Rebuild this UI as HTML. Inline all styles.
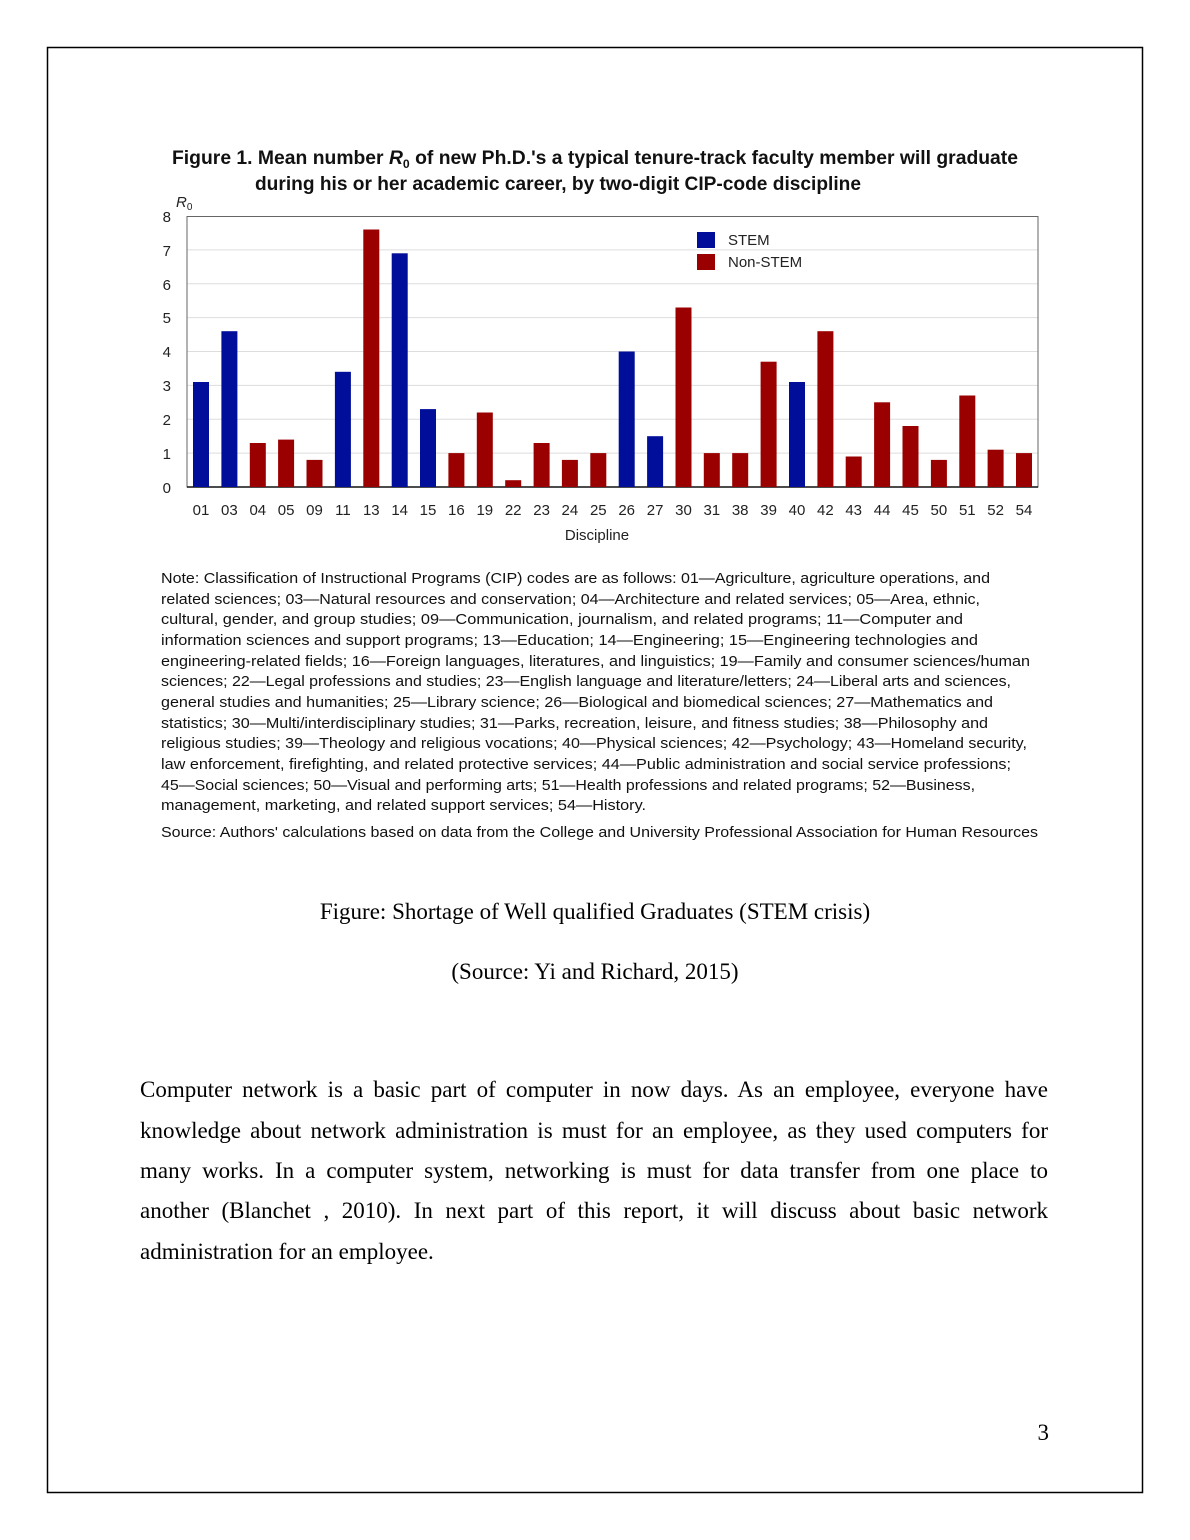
<!DOCTYPE html>
<html><head><meta charset="utf-8"><style>
html,body{margin:0;padding:0;background:#fff}
svg{display:block}
.s{font-family:"Liberation Sans","DejaVu Sans",sans-serif}
.t{font-family:"Liberation Serif",serif}
.pl{position:absolute;left:140px;width:908px;font-family:"Liberation Serif",serif;font-size:23px;line-height:26px;white-space:nowrap;text-align:justify;text-align-last:justify;color:#000}
.pl.last{text-align-last:left}
</style></head><body>
<div style="position:relative;width:1190px;height:1540px">
<svg width="1190" height="1540" viewBox="0 0 1190 1540" xmlns="http://www.w3.org/2000/svg" style="position:absolute;left:0;top:0">
<rect x="47.5" y="47.5" width="1095" height="1445" fill="none" stroke="#000" stroke-width="1.5"/>
<g class="s" font-weight="bold" font-size="19" fill="#111">
<text x="172" y="164" textLength="846" lengthAdjust="spacingAndGlyphs">Figure 1. Mean number <tspan font-style="italic">R</tspan><tspan font-size="12" dy="4">0</tspan><tspan dy="-4"> of new Ph.D.'s a typical tenure-track faculty member will graduate</tspan></text>
<text x="255" y="190" textLength="606" lengthAdjust="spacingAndGlyphs">during his or her academic career, by two-digit CIP-code discipline</text>
</g>
<text class="s" x="176" y="207" font-size="15" font-style="italic" fill="#222">R<tspan font-size="10" dy="3" font-style="normal">0</tspan></text>
<g stroke="#ddd" stroke-width="1">
<line x1="187" x2="1038" y1="453.1" y2="453.1"/><line x1="187" x2="1038" y1="419.3" y2="419.3"/>
<line x1="187" x2="1038" y1="385.4" y2="385.4"/><line x1="187" x2="1038" y1="351.5" y2="351.5"/>
<line x1="187" x2="1038" y1="317.6" y2="317.6"/><line x1="187" x2="1038" y1="283.8" y2="283.8"/>
<line x1="187" x2="1038" y1="249.9" y2="249.9"/>
</g>
<rect x="187" y="216.5" width="851" height="270.5" fill="none" stroke="#666" stroke-width="1"/>
<line x1="187" x2="1038" y1="487" y2="487" stroke="#111" stroke-width="1.5"/>
<g class="s" font-size="15" fill="#222" text-anchor="end">
<text x="171" y="493">0</text><text x="171" y="459">1</text><text x="171" y="425">2</text><text x="171" y="391">3</text><text x="171" y="357">4</text><text x="171" y="323">5</text><text x="171" y="290">6</text><text x="171" y="256">7</text><text x="171" y="222">8</text>
</g>
<g fill="#000e99">
<rect x="193" y="382" width="16" height="105"/>
<rect x="221.4" y="331.2" width="16" height="155.8"/>
<rect x="334.9" y="371.8" width="16" height="115.2"/>
<rect x="391.7" y="253.3" width="16" height="233.7"/>
<rect x="420" y="409.1" width="16" height="77.9"/>
<rect x="618.7" y="351.5" width="16" height="135.5"/>
<rect x="647.1" y="436.2" width="16" height="50.8"/>
<rect x="789" y="382" width="16" height="105"/>
<rect x="697" y="232" width="18" height="16"/>
</g>
<g fill="#9b0000">
<rect x="249.8" y="443" width="16" height="44"/>
<rect x="278.1" y="439.6" width="16" height="47.4"/>
<rect x="306.5" y="459.9" width="16" height="27.1"/>
<rect x="363.3" y="229.5" width="16" height="257.5"/>
<rect x="448.4" y="453.1" width="16" height="33.9"/>
<rect x="476.8" y="412.5" width="16" height="74.5"/>
<rect x="505.2" y="480.2" width="16" height="6.8"/>
<rect x="533.6" y="443" width="16" height="44"/>
<rect x="561.9" y="459.9" width="16" height="27.1"/>
<rect x="590.3" y="453.1" width="16" height="33.9"/>
<rect x="675.5" y="307.5" width="16" height="179.5"/>
<rect x="703.8" y="453.1" width="16" height="33.9"/>
<rect x="732.2" y="453.1" width="16" height="33.9"/>
<rect x="760.6" y="361.7" width="16" height="125.3"/>
<rect x="817.4" y="331.2" width="16" height="155.8"/>
<rect x="845.7" y="456.5" width="16" height="30.5"/>
<rect x="874.1" y="402.3" width="16" height="84.7"/>
<rect x="902.5" y="426" width="16" height="61"/>
<rect x="930.9" y="459.9" width="16" height="27.1"/>
<rect x="959.3" y="395.5" width="16" height="91.5"/>
<rect x="987.6" y="449.7" width="16" height="37.3"/>
<rect x="1016" y="453.1" width="16" height="33.9"/>
<rect x="697" y="254" width="18" height="16"/>
</g>
<g class="s" font-size="15" fill="#222">
<text x="728" y="245">STEM</text><text x="728" y="267">Non-STEM</text>
</g>
<g class="s" font-size="15" fill="#222" text-anchor="middle">
<text x="201" y="515">01</text><text x="229.4" y="515">03</text><text x="257.8" y="515">04</text><text x="286.1" y="515">05</text><text x="314.5" y="515">09</text><text x="342.9" y="515">11</text><text x="371.3" y="515">13</text><text x="399.7" y="515">14</text><text x="428" y="515">15</text><text x="456.4" y="515">16</text><text x="484.8" y="515">19</text><text x="513.2" y="515">22</text><text x="541.6" y="515">23</text><text x="569.9" y="515">24</text><text x="598.3" y="515">25</text><text x="626.7" y="515">26</text><text x="655.1" y="515">27</text><text x="683.5" y="515">30</text><text x="711.8" y="515">31</text><text x="740.2" y="515">38</text><text x="768.6" y="515">39</text><text x="797" y="515">40</text><text x="825.4" y="515">42</text><text x="853.7" y="515">43</text><text x="882.1" y="515">44</text><text x="910.5" y="515">45</text><text x="938.9" y="515">50</text><text x="967.3" y="515">51</text><text x="995.6" y="515">52</text><text x="1024" y="515">54</text>
<text x="597" y="540">Discipline</text>
</g>
<g class="s" font-size="15" fill="#111">
<text x="161" y="583" textLength="829" lengthAdjust="spacingAndGlyphs">Note: Classification of Instructional Programs (CIP) codes are as follows: 01—Agriculture, agriculture operations, and</text>
<text x="161" y="604" textLength="819" lengthAdjust="spacingAndGlyphs">related sciences; 03—Natural resources and conservation; 04—Architecture and related services; 05—Area, ethnic,</text>
<text x="161" y="624" textLength="802" lengthAdjust="spacingAndGlyphs">cultural, gender, and group studies; 09—Communication, journalism, and related programs; 11—Computer and</text>
<text x="161" y="645" textLength="817" lengthAdjust="spacingAndGlyphs">information sciences and support programs; 13—Education; 14—Engineering; 15—Engineering technologies and</text>
<text x="161" y="666" textLength="869" lengthAdjust="spacingAndGlyphs">engineering-related fields; 16—Foreign languages, literatures, and linguistics; 19—Family and consumer sciences/human</text>
<text x="161" y="686" textLength="850" lengthAdjust="spacingAndGlyphs">sciences; 22—Legal professions and studies; 23—English language and literature/letters; 24—Liberal arts and sciences,</text>
<text x="161" y="707" textLength="832" lengthAdjust="spacingAndGlyphs">general studies and humanities; 25—Library science; 26—Biological and biomedical sciences; 27—Mathematics and</text>
<text x="161" y="728" textLength="827" lengthAdjust="spacingAndGlyphs">statistics; 30—Multi/interdisciplinary studies; 31—Parks, recreation, leisure, and fitness studies; 38—Philosophy and</text>
<text x="161" y="748" textLength="866" lengthAdjust="spacingAndGlyphs">religious studies; 39—Theology and religious vocations; 40—Physical sciences; 42—Psychology; 43—Homeland security,</text>
<text x="161" y="769" textLength="850" lengthAdjust="spacingAndGlyphs">law enforcement, firefighting, and related protective services; 44—Public administration and social service professions;</text>
<text x="161" y="790" textLength="814" lengthAdjust="spacingAndGlyphs">45—Social sciences; 50—Visual and performing arts; 51—Health professions and related programs; 52—Business,</text>
<text x="161" y="810" textLength="485" lengthAdjust="spacingAndGlyphs">management, marketing, and related support services; 54—History.</text>
<text x="161" y="837" textLength="877" lengthAdjust="spacingAndGlyphs">Source: Authors' calculations based on data from the College and University Professional Association for Human Resources</text>
</g>
<g class="t" font-size="23" fill="#000">
<text x="595" y="919" text-anchor="middle">Figure: Shortage of Well qualified Graduates (STEM crisis)</text>
<text x="595" y="979" text-anchor="middle">(Source: Yi and Richard, 2015)</text>
<text x="1049" y="1440" text-anchor="end">3</text>
</g>
</svg>
<div class="pl" style="top:1077px">Computer network is a basic part of computer in now days. As an employee, everyone have</div>
<div class="pl" style="top:1118px">knowledge about network administration is must for an employee, as they used computers for</div>
<div class="pl" style="top:1158px">many works. In a computer system, networking is must for data transfer from one place to</div>
<div class="pl" style="top:1198px">another (Blanchet , 2010). In next part of this report, it will discuss about basic network</div>
<div class="pl last" style="top:1239px">administration for an employee.</div>
</div>
</body></html>
